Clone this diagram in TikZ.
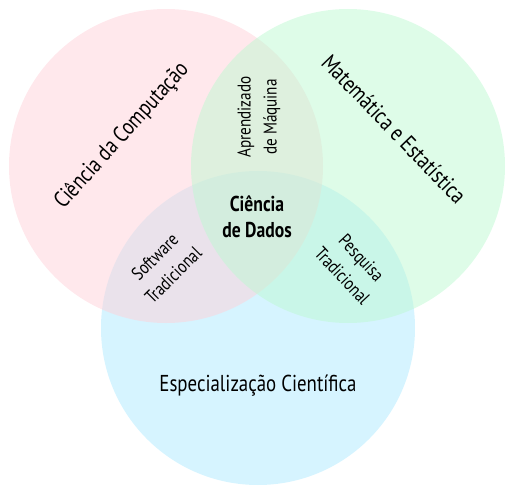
\documentclass[tikz,border=0pt]{standalone}
\usepackage{fontspec}
\setmainfont[FakeStretch=0.82]{PT Sans}
\definecolor{pinkc}{RGB}{255,209,217}
\definecolor{greenc}{RGB}{189,249,209}
\definecolor{bluec}{RGB}{173,233,255}
\begin{document}
\begin{tikzpicture}[x=1pt,y=-1pt,
  set/.style={circle, draw=none, fill opacity=0.5, minimum size=314pt, inner sep=0pt},
  outer/.style={font=\fontsize{23}{26}\selectfont, inner sep=0pt},
  inner/.style={font=\fontsize{18.5}{26}\selectfont, align=center, inner sep=0pt},
  core/.style={font=\bfseries\fontsize{21.5}{26}\selectfont, align=center, inner sep=0pt}]
\useasboundingbox (0,0) rectangle (515,495);
\node[set, fill=bluec] (blue) at (258,328) {};
\node[set, fill=pinkc] (pink) at (166,166) {};
\node[set, fill=greenc] (green) at (348,166) {};
\node[outer, rotate=48] (cc) at (122,136) {Ciência da Computação};
\node[outer, rotate=-46] (me) at (394,129) {Matemática e Estatística};
\node[outer] (ec) at (258,386) {Especialização Científica};
\node[inner, rotate=90] (am) at (259,117) {Aprendizado\\de Máquina};
\node[core] (cd) at (257,217) {Ciência\\de Dados};
\node[inner, rotate=45] (st) at (164,266) {Software\\Tradicional};
\node[inner, rotate=-47] (pt) at (352,267) {Pesquisa\\Tradicional};
\end{tikzpicture}
\end{document}
